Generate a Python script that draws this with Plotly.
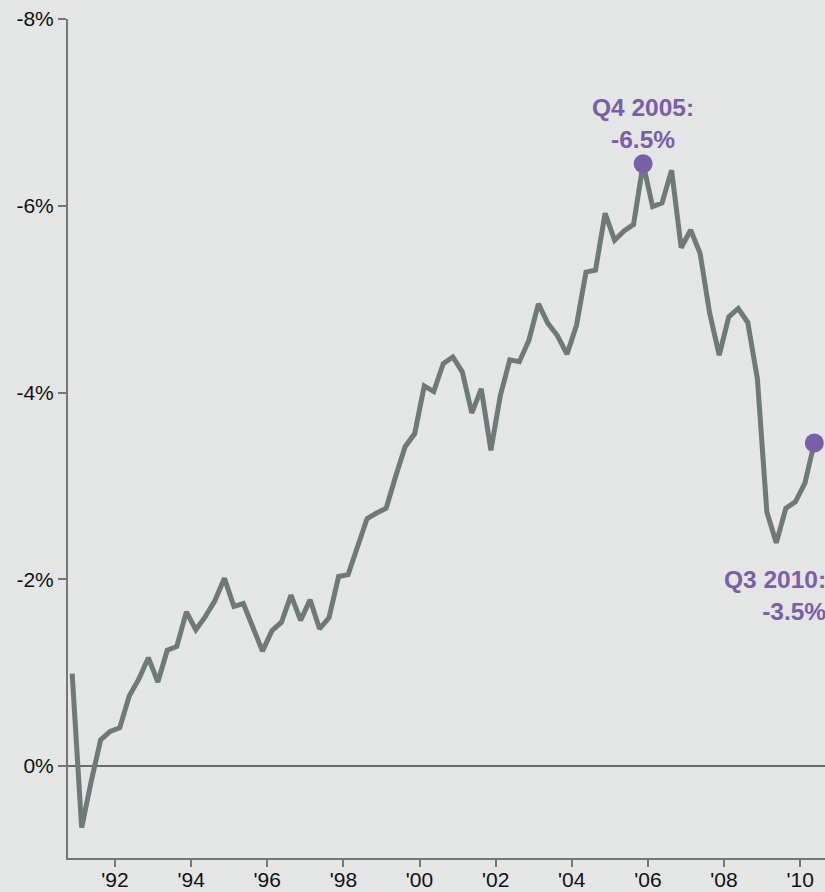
import pandas as pd
import plotly.graph_objects as go

# Quarterly series, in percent (negative values plotted upward on a reversed axis)
values = [
    -0.99, 0.66, 0.17, -0.28, -0.37, -0.41, -0.75, -0.93, -1.16, -0.90,
    -1.24, -1.28, -1.65, -1.46, -1.60, -1.77, -2.01, -1.71, -1.74, -1.47,
    -1.23, -1.45, -1.54, -1.83, -1.56, -1.78, -1.47, -1.59, -2.03, -2.05,
    -2.35, -2.65, -2.71, -2.76, -3.10, -3.42, -3.56, -4.07, -4.01, -4.31,
    -4.38, -4.22, -3.78, -4.04, -3.38, -3.97, -4.35, -4.33, -4.56, -4.95,
    -4.74, -4.61, -4.41, -4.72, -5.29, -5.31, -5.92, -5.63, -5.73, -5.80,
    -6.45, -5.99, -6.03, -6.38, -5.55, -5.74, -5.49, -4.85, -4.40, -4.81,
    -4.90, -4.75, -4.15, -2.72, -2.39, -2.76, -2.83, -3.03, -3.46,
]
start_quarter = "1990Q4"

# Highlighted points: (index in series, label)
highlight_idx = [60, 78]
highlight_text = ["Q4 2005:<br>-6.5%", "Q3 2010:<br>-3.5%"]

tick_years = [1992, 1994, 1996, 1998, 2000, 2002, 2004, 2006, 2008, 2010]
tick_labels = ["'92", "'94", "'96", "'98", "'00", "'02", "'04", "'06", "'08", "'10"]
y_ticks = [0, -2, -4, -6, -8]
y_tick_labels = ["0%", "-2%", "-4%", "-6%", "-8%"]

periods = pd.period_range(start_quarter, periods=len(values), freq="Q")
# plot each quarter at its midpoint
dates = [p.start_time + (p.end_time - p.start_time) / 2 for p in periods]

LINE = "#6e7a77"
PURPLE = "#7a5ea8"
BG = "#e4e5e5"
AXIS = "#767676"
FONT = "Liberation Sans, Arial, sans-serif"

fig = go.Figure()
fig.add_trace(go.Scatter(
    x=dates, y=values, mode="lines",
    line=dict(color=LINE, width=5, shape="linear"),
    hoverinfo="skip", showlegend=False,
))
fig.add_trace(go.Scatter(
    x=[dates[i] for i in highlight_idx],
    y=[values[i] for i in highlight_idx],
    mode="markers",
    marker=dict(color=PURPLE, size=19, line=dict(width=0)),
    hoverinfo="skip", showlegend=False, cliponaxis=False,
))

# Peak label above its point
i0 = highlight_idx[0]
fig.add_annotation(
    x=dates[i0], y=values[i0], text="<b>" + highlight_text[0] + "</b>",
    showarrow=False, xanchor="center", yanchor="bottom", yshift=9,
    align="center", font=dict(family=FONT, size=24.5, color=PURPLE),
)
# Latest label below, right-aligned to its point
i1 = highlight_idx[1]
fig.add_annotation(
    x=dates[i1], y=values[i1], text="<b>" + highlight_text[1] + "</b>",
    showarrow=False, xanchor="right", yanchor="top", xshift=14, yshift=-121,
    align="right", font=dict(family=FONT, size=24.5, color=PURPLE),
)

fig.update_layout(
    width=825, height=892,
    margin=dict(l=68, r=0, t=19, b=34),
    paper_bgcolor=BG, plot_bgcolor=BG,
    font=dict(family=FONT, size=21, color="#111111"),
    showlegend=False,
)
fig.update_xaxes(
    type="date",
    range=["1990-10-07", "2010-08-27"],
    tickvals=[f"{y}-01-01" for y in tick_years],
    ticktext=tick_labels,
    ticks="outside", ticklen=7, tickwidth=2, tickcolor=AXIS,
    ticklabelstandoff=-5,
    showline=True, linecolor=AXIS, linewidth=2,
    showgrid=False, zeroline=False, automargin=False,
    tickfont=dict(family=FONT, size=21, color="#111111"),
)
fig.update_yaxes(
    range=[0.985, -8],
    tickvals=y_ticks, ticktext=y_tick_labels,
    ticks="outside", ticklen=8, tickwidth=2, tickcolor=AXIS,
    showline=True, linecolor=AXIS, linewidth=2,
    showgrid=False, automargin=False,
    zeroline=True, zerolinecolor="#6a6a6a", zerolinewidth=2,
    tickfont=dict(family=FONT, size=21, color="#111111"),
)

fig.write_html("out.html", config={"displayModeBar": False})
